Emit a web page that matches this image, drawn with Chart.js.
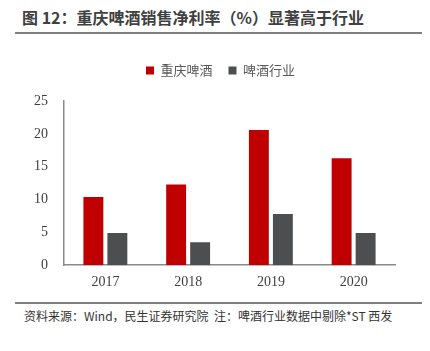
<!DOCTYPE html>
<html><head><meta charset="utf-8">
<script src="https://cdn.jsdelivr.net/npm/chart.js@4/dist/chart.umd.min.js"></script>
<style>
html,body{margin:0;padding:0;background:#fff;width:430px;height:351px;overflow:hidden;position:relative;font-family:"Noto Sans CJK SC","Noto Sans",sans-serif;}
#title{position:absolute;left:22px;top:6px;font-size:16px;font-weight:bold;color:#404040;white-space:nowrap;line-height:22px;}
#l1{position:absolute;left:15px;top:32px;width:407px;height:2px;background:#7f7f7f;}
#l2{position:absolute;left:15px;top:302px;width:407px;height:2px;background:#7f7f7f;}
#foot{position:absolute;left:24px;top:307px;font-size:12px;color:#333;white-space:nowrap;line-height:18px;}
#wrap{position:absolute;left:0;top:48px;width:430px;height:252px;}
</style></head><body>
<div id="title">图 12：重庆啤酒销售净利率（%）显著高于行业</div>
<div id="l1"></div>
<div id="wrap"><canvas id="c"></canvas></div>
<div id="l2"></div>
<div id="foot">资料来源：Wind，民生证券研究院&nbsp; 注：啤酒行业数据中剔除*ST 西发</div>
<script>
const categories = ["2017","2018","2019","2020"];
const cqBeer = [10.4, 12.3, 20.6, 16.3];
const industry = [4.9, 3.5, 7.8, 4.9];
const yTicks = [0,5,10,15,20,25];

const legendTweak = {id:'legendTweak',
  beforeInit(chart){
    const f = chart.legend.fit;
    chart.legend.fit = function(){ f.bind(chart.legend)(); this.height += 14; };
  },
  afterLayout(chart){
    const lg = chart.legend;
    lg.left += 23; lg.right += 23;
  }
};

new Chart(document.getElementById('c'), {
  type:'bar',
  data:{labels:categories,datasets:[
    {label:'重庆啤酒',data:cqBeer,backgroundColor:'#C00000',categoryPercentage:0.58,barPercentage:0.83},
    {label:'啤酒行业',data:industry,backgroundColor:'#4D4E50',categoryPercentage:0.58,barPercentage:0.83}
  ]},
  plugins:[legendTweak],
  options:{
    responsive:true,maintainAspectRatio:false,animation:false,
    layout:{padding:{left:0,right:35,top:0,bottom:0}},
    plugins:{
      tooltip:{enabled:false},
      legend:{position:'top',labels:{boxWidth:8,boxHeight:8,padding:16,color:'#595959',font:{family:'"Noto Sans CJK SC"',size:13}}}
    },
    scales:{
      x:{grid:{display:false,drawTicks:false},border:{color:'#8a8a8a',width:1.5},
         ticks:{color:'#404040',padding:9,font:{family:'"Liberation Serif","Times New Roman",serif',size:14}}},
      y:{min:0,max:25,afterFit:(a)=>{a.width=64;},
         afterBuildTicks:(a)=>{a.ticks=yTicks.map(v=>({value:v}));},
         grid:{display:false,drawTicks:false},border:{color:'#8a8a8a',width:1.5},
         ticks:{color:'#404040',padding:16,font:{family:'"Liberation Serif","Times New Roman",serif',size:14}}}
    }
  }
});
</script>
</body></html>
